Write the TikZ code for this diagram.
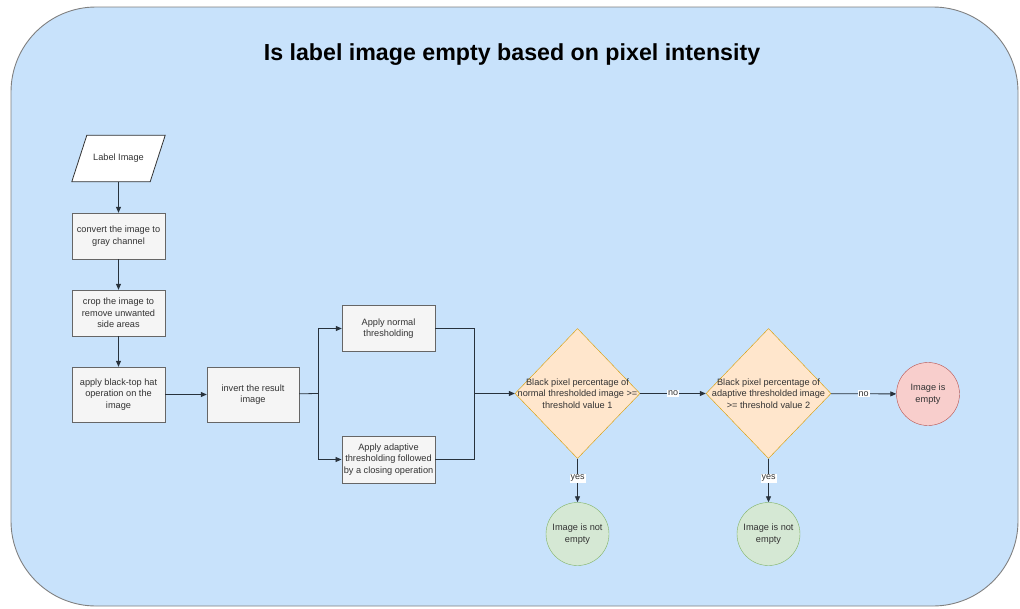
\documentclass[tikz,border=0pt]{standalone}
\usepackage{fontspec}
\setmainfont{Liberation Sans}
\usetikzlibrary{positioning, shapes.geometric, arrows.meta}

\definecolor{bgfill}{RGB}{200,226,251}
\definecolor{bgline}{RGB}{128,128,128}
\definecolor{boxfill}{RGB}{245,245,245}
\definecolor{boxline}{RGB}{102,102,102}
\definecolor{decfill}{RGB}{255,230,204}
\definecolor{decline}{RGB}{215,155,0}
\definecolor{redfill}{RGB}{248,206,204}
\definecolor{redline}{RGB}{184,84,80}
\definecolor{greenfill}{RGB}{213,232,212}
\definecolor{greenline}{RGB}{130,179,102}
\definecolor{arrowline}{RGB}{40,50,60}

\tikzset{
  box/.style={draw=boxline, fill=boxfill, minimum width=93pt, minimum height=46pt,
    align=center, inner sep=2pt, text=black!80, font=\fontsize{9.2}{11.5}\selectfont},
  decision/.style={diamond, draw=decline, fill=decfill, minimum width=125pt,
    minimum height=130pt, inner sep=0pt},
  dectext/.style={align=center, text=black!80, font=\fontsize{9.2}{11.5}\selectfont},
  endnode/.style={circle, minimum size=63pt, inner sep=0pt, align=center,
    text=black!80, font=\fontsize{9.2}{11.5}\selectfont},
  answer/.style={fill=white, inner sep=1pt, text=black!80, font=\fontsize{9}{10}\selectfont},
  flow/.style={draw=arrowline, line width=0.8pt, -{Triangle[length=6pt, width=5pt]}},
  link/.style={draw=arrowline, line width=0.8pt}
}

\begin{document}
\begin{tikzpicture}[x=1pt, y=-1pt]
  \useasboundingbox (0,0) rectangle (1020,608);
  \draw[draw=bgline, fill=bgfill, line width=0.9pt, rounded corners=85pt] (11,7) rectangle (1018,606);

  \node (title) at (512,55) {\fontsize{23.2}{26}\selectfont\bfseries Is label image empty based on pixel intensity};

  \node[minimum width=93pt, minimum height=46pt, inner sep=0pt] (label) at (118.5,158.5) {};
  \draw[draw=black!80, fill=white, line width=0.8pt] (label.south west) -- ([xshift=-15pt]label.south east)
    -- (label.north east) -- ([xshift=15pt]label.north west) -- cycle;
  \node[text=black!80, font=\fontsize{9.2}{11.5}\selectfont] (labeltext) at (label) {Label Image};
  \node[box] (gray) at (118.5,236) {convert the image to\\gray channel};
  \node[box] (crop) at (118.5,313) {crop the image to\\remove unwanted\\side areas};
  \node[box, minimum height=55pt] (tophat) at (118.5,394.5) {apply black-top hat\\operation on the\\image};
  \node[box, minimum height=55pt, minimum width=92pt] (invert) at (253,394.5) {invert the result\\image};
  \node[box] (normal) at (388.5,328.5) {Apply normal\\thresholding};
  \node[box, minimum height=47pt] (adaptive) at (388.5,459.5) {Apply adaptive\\thresholding followed\\by a closing operation};

  \coordinate (split) at (318,393.5);
  \coordinate (merge) at (474,393.5);

  \node[decision] (check1) at (577.5,393.5) {};
  \node[dectext] (check1text) at (check1) {Black pixel percentage of\\normal thresholded image >=\\threshold value 1};
  \node[decision] (check2) at (768.5,393.5) {};
  \node[dectext] (check2text) at (check2) {Black pixel percentage of\\adaptive thresholded image\\>= threshold value 2};

  \node[endnode, draw=redline, fill=redfill] (empty) at (928,394) {Image is\\empty};
  \node[endnode, draw=greenline, fill=greenfill] (full1) at (577.5,534) {Image is not\\empty};
  \node[endnode, draw=greenline, fill=greenfill] (full2) at (768.5,534) {Image is not\\empty};

  \draw[flow] (label) -- (gray);
  \draw[flow] (gray) -- (crop);
  \draw[flow] (crop) -- (tophat);
  \draw[flow] (tophat) -- (invert);
  \draw[link] (invert) -- (split);
  \draw[flow] (split) |- (normal);
  \draw[flow] (split) |- (adaptive);
  \draw[link] (normal) -| (merge);
  \draw[link] (adaptive) -| (merge);
  \draw[flow] (merge) -- (check1);
  \draw[flow] (check1) -- (check2) node [midway, answer] {no};
  \draw[flow] (check2) -- (empty) node [midway, answer] {no};
  \draw[flow] (check1) -- (full1) node [pos=0.45, answer] {yes};
  \draw[flow] (check2) -- (full2) node [pos=0.45, answer] {yes};
\end{tikzpicture}
\end{document}
